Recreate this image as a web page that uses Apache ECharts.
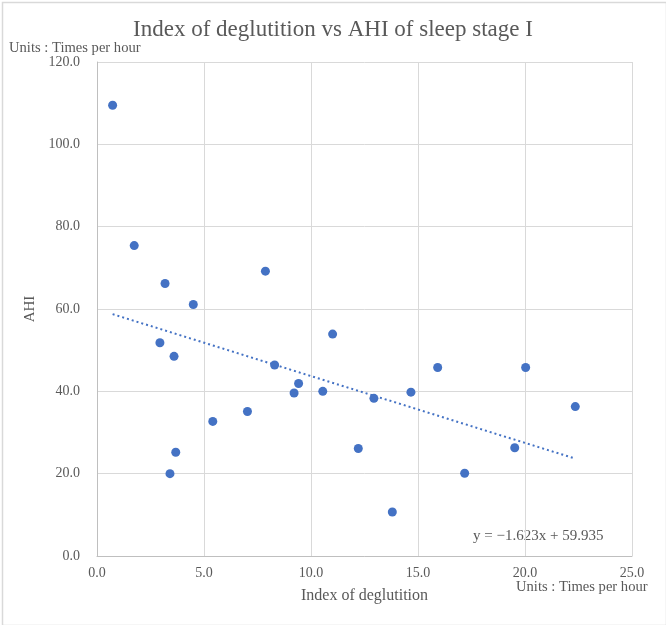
<!DOCTYPE html>
<html lang="en">
<head>
    <meta charset="UTF-8">
    <title>Index of deglutition vs AHI</title>
    <script src="https://cdn.jsdelivr.net/npm/echarts@6/dist/echarts.min.js"></script>
    <style>
        body { margin: 0; background: #fff; }
    </style>
</head>
<body>
    <div id="main" style="width: 666px;height:625px;"></div>
    <script type="text/javascript">
        // index of deglutition (times per hour)
        var deglutition = [0.73, 1.74, 3.18, 4.50, 7.87, 2.94, 3.60, 8.30, 11.01, 15.92,
                           9.42, 9.21, 10.55, 12.94, 14.67, 7.03, 5.41, 12.21, 3.68, 3.41,
                           20.03, 22.35, 19.52, 17.18, 13.80];
        // AHI of sleep stage I
        var ahi = [109.5, 75.4, 66.2, 61.1, 69.2, 51.8, 48.5, 46.4, 53.9, 45.8,
                   41.9, 39.6, 40.0, 38.3, 39.8, 35.1, 32.7, 26.1, 25.2, 20.0,
                   45.8, 36.3, 26.3, 20.1, 10.7];
        // linear trendline shown on the chart
        var slope = -1.623;
        var intercept = 59.935;

        var points = deglutition.map(function (x, i) { return [x, ahi[i]]; });
        var xMin = Math.min.apply(null, deglutition);
        var xMax = Math.max.apply(null, deglutition);
        var trend = [[xMin, slope * xMin + intercept], [xMax, slope * xMax + intercept]];

        var font = '"Liberation Serif", "DejaVu Serif", serif';
        var grey = '#595959';

        var myChart = echarts.init(document.getElementById('main'));
        var option = {
            backgroundColor: '#fff',
            textStyle: { fontFamily: font },
            title: {
                text: 'Index of deglutition vs AHI of sleep stage I',
                left: 'center',
                top: 13,
                textStyle: { fontFamily: font, fontSize: 23, fontWeight: 'normal', color: grey }
            },
            grid: { left: 97, right: 34, top: 62, bottom: 69 },
            xAxis: {
                type: 'value',
                min: 0, max: 25, interval: 5,
                name: 'Index of deglutition',
                nameLocation: 'middle',
                nameGap: 32,
                nameTextStyle: { fontFamily: font, fontSize: 16, color: grey },
                axisLine: { lineStyle: { color: '#bfbfbf' } },
                axisTick: { show: false },
                splitLine: { lineStyle: { color: '#d9d9d9' } },
                axisLabel: {
                    margin: 10, fontFamily: font, fontSize: 14, color: grey,
                    formatter: function (v) { return v.toFixed(1); }
                }
            },
            yAxis: {
                type: 'value',
                min: 0, max: 120, interval: 20,
                name: 'AHI',
                nameLocation: 'middle',
                nameGap: 57,
                nameTextStyle: { fontFamily: font, fontSize: 15, color: grey },
                axisLine: { show: true, lineStyle: { color: '#bfbfbf' } },
                axisTick: { show: false },
                splitLine: { lineStyle: { color: '#d9d9d9' } },
                axisLabel: {
                    margin: 17, fontFamily: font, fontSize: 14, color: grey,
                    formatter: function (v) { return v.toFixed(1); }
                }
            },
            graphic: [
                {
                    type: 'rect', left: 0, top: 0, silent: true,
                    shape: { width: 664, height: 623 },
                    style: { fill: 'none', stroke: '#d9d9d9', lineWidth: 1.5 }
                },
                {
                    type: 'text', left: 9, top: 41,
                    style: { text: 'Units : Times per hour', fill: grey, font: '14.6px ' + font }
                },
                {
                    type: 'text', left: 516, top: 580,
                    style: { text: 'Units : Times per hour', fill: grey, font: '14.6px ' + font }
                },
                {
                    type: 'text', left: 473, top: 529,
                    style: { text: 'y = \u22121.623x + 59.935', fill: grey, font: '15px ' + font }
                }
            ],
            series: [
                {
                    name: 'AHI',
                    type: 'scatter',
                    symbolSize: 9,
                    itemStyle: { color: '#4472C4', opacity: 1 },
                    data: points,
                    z: 3
                },
                {
                    name: 'trend',
                    type: 'line',
                    data: trend,
                    symbol: 'none',
                    silent: true,
                    lineStyle: { color: '#4472C4', width: 2, type: [2, 3] },
                    z: 2
                }
            ]
        };
        myChart.setOption(option);
    </script>
</body>
</html>
